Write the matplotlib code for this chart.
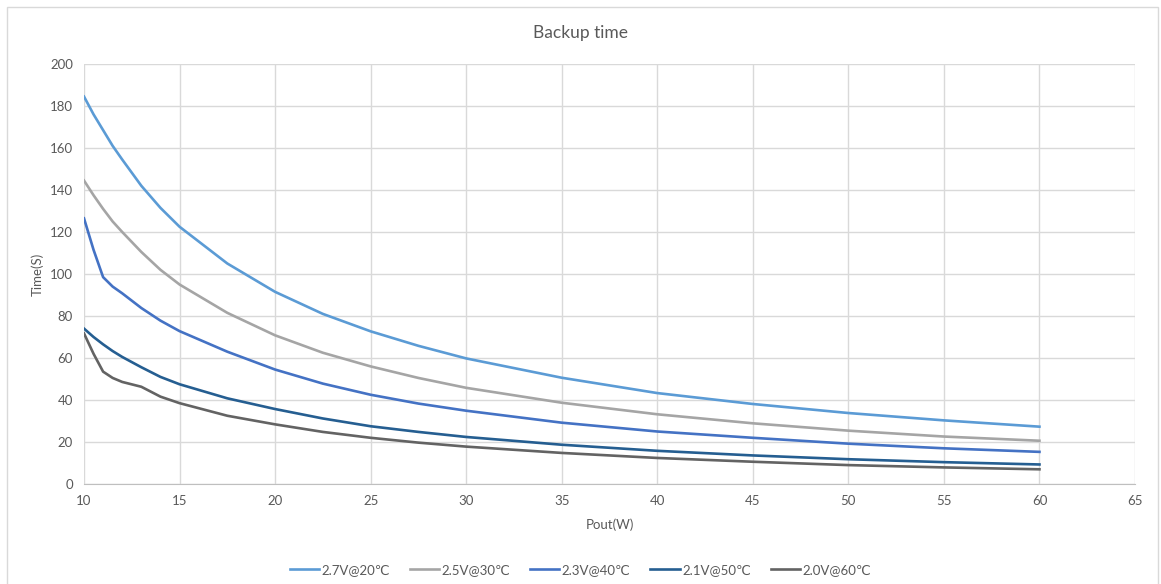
import matplotlib.pyplot as plt
from matplotlib.patches import Rectangle

# Pout (W) sample points
pout = [10, 10.5, 11, 11.5, 12, 13, 14, 15, 17.5, 20, 22.5, 25, 27.5, 30, 35, 40, 45, 50, 55, 60]

t_27v = [184.5, 176, 168.5, 161, 154.5, 142, 131.5, 122.5, 105, 91.5, 81, 72.7, 65.8, 59.8,
         50.6, 43.3, 38.1, 33.8, 30.3, 27.3]
t_25v = [144.5, 137.5, 131, 125, 120, 110.5, 102, 95, 81.5, 70.8, 62.5, 56, 50.5, 45.8,
         38.7, 33.2, 28.9, 25.4, 22.6, 20.6]
t_23v = [126.5, 111.5, 98.5, 94, 90.8, 83.8, 77.8, 72.8, 63, 54.5, 47.8, 42.5, 38.3, 34.9,
         29.2, 25, 22, 19.2, 17, 15.3]
t_21v = [74, 70, 66.5, 63.3, 60.5, 55.6, 51, 47.5, 40.8, 35.7, 31.2, 27.5, 24.8, 22.4,
         18.7, 15.8, 13.6, 11.8, 10.4, 9.3]
t_20v = [71.7, 62, 53.5, 50.5, 48.6, 46.3, 41.6, 38.5, 32.5, 28.4, 24.8, 22, 19.7, 17.8,
         14.8, 12.4, 10.6, 9, 7.9, 7]

labels = ['2.7V@20℃', '2.5V@30℃', '2.3V@40℃', '2.1V@50℃', '2.0V@60℃']
colors = ['#5B9BD5', '#A5A5A5', '#4472C4', '#255E91', '#636363']

plt.rcParams['font.family'] = ['Lato', 'DejaVu Sans']
txt = '#595959'

fig = plt.figure(figsize=(11.61, 5.84), dpi=100)
ax = fig.add_axes([84 / 1161, 1 - 484 / 584, (1135 - 84) / 1161, (484 - 64) / 584])

# chart border
fig.patches.append(Rectangle((7 / 1161, -0.05), (1158 - 7) / 1161, 1.05 - 7 / 584,
                             transform=fig.transFigure, fill=False,
                             edgecolor='#D9D9D9', linewidth=1))

for ys, lab, c in zip([t_27v, t_25v, t_23v, t_21v, t_20v], labels, colors):
    ax.plot(pout, ys, color=c, linewidth=1.9, label=lab, solid_joinstyle='round')

ax.set_xlim(10, 65)
ax.set_ylim(0, 200)
ax.set_xticks(range(10, 66, 5))
ax.set_yticks(range(0, 201, 20))
ax.grid(True, color='#D9D9D9', linewidth=1)
ax.set_axisbelow(True)
for s in ['top', 'right', 'left']:
    ax.spines[s].set_visible(False)
ax.spines['bottom'].set_color('#BFBFBF')
ax.tick_params(length=0, colors=txt, labelsize=9.5, pad=8)

ax.set_xlabel('Pout(W)', color=txt, fontsize=9.5, labelpad=8)
ax.set_ylabel('Time(S)', color=txt, fontsize=9.5, labelpad=4)
fig.text(0.5, 1 - 33 / 584, 'Backup time', ha='center', va='center', color=txt, fontsize=12.5)

fig.legend(loc='center', bbox_to_anchor=(0.5, 1 - 570 / 584), ncol=5, frameon=False,
           fontsize=9.5, labelcolor=txt, handlelength=2.2, handletextpad=0.2,
           columnspacing=1.5)

fig.savefig('out.png', dpi=100)
